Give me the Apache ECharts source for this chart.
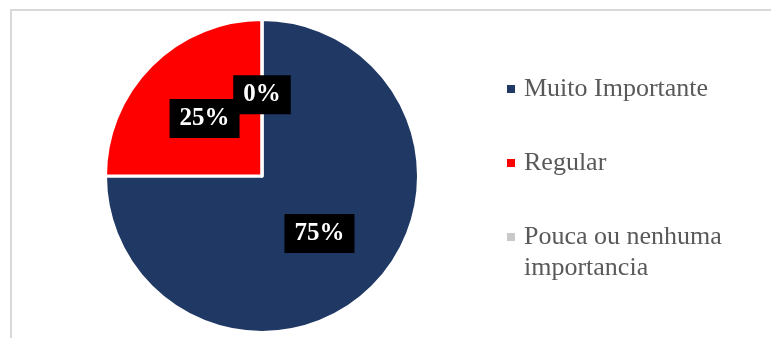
<!DOCTYPE html>
<html>
<head>
<meta charset="utf-8">
<script src="https://cdn.jsdelivr.net/npm/echarts@6/dist/echarts.min.js"></script>
<style>
  html, body { margin: 0; padding: 0; background: #ffffff; }
  #chart { width: 771px; height: 338px; }
</style>
</head>
<body>
<div id="chart"></div>
<script>
// Answer categories and their shares (percent)
const categories = ['Muito Importante', 'Regular', 'Pouca ou nenhuma importancia'];
const shares = [75, 25, 0];
const sliceColors = ['#203864', '#FF0000', '#C9C9C9'];

const serif = '"Liberation Serif", "Times New Roman", serif';
const legendCenters = [89, 163, 237];   // vertical centre of each legend marker
const legendLine = 31;

const chart = echarts.init(document.getElementById('chart'), null, { renderer: 'canvas' });

// one legend block per category so each row sits at its own height;
// the long name wraps onto two lines with the marker beside the first one
const legends = categories.map((name, i) => {
  const twoLine = name === 'Pouca ou nenhuma importancia';
  return {
    orient: 'vertical',
    left: 507,
    top: twoLine ? legendCenters[i] - legendLine * 1.5 : legendCenters[i] - legendLine / 2,
    padding: 0,
    icon: 'rect',
    itemWidth: 8,
    itemHeight: 8,
    itemStyle: { borderWidth: 0 },
    selectedMode: false,
    data: [name],
    formatter: n => n === 'Pouca ou nenhuma importancia' ? '\nPouca ou nenhuma\nimportancia' : n,
    textStyle: {
      fontFamily: serif,
      fontSize: 26,
      color: '#595959',
      lineHeight: legendLine,
      padding: [0, 0, 0, 4]
    }
  };
});

chart.setOption({
  animation: false,
  backgroundColor: '#ffffff',
  legend: legends,
  graphic: [{
    type: 'rect',
    shape: { x: 11, y: 10, width: 800, height: 400 },
    style: { fill: 'none', stroke: '#D9D9D9', lineWidth: 2 },
    silent: true
  }],
  series: [{
    type: 'pie',
    center: [262, 176],
    radius: 156.5,
    startAngle: 90,
    clockwise: true,
    minShowLabelAngle: 0,
    avoidLabelOverlap: false,
    labelLayout: { hideOverlap: false },
    data: categories.map((name, i) => ({
      name,
      value: shares[i],
      itemStyle: { color: sliceColors[i] }
    })),
    itemStyle: { borderColor: '#ffffff', borderWidth: 3 },
    label: {
      show: true,
      position: 'inside',
      formatter: '{d}%',
      fontFamily: serif,
      fontWeight: 'bold',
      fontSize: 25,
      color: '#ffffff',
      backgroundColor: '#000000',
      padding: [5, 10, 5, 10],
      lineHeight: 29
    },
    labelLine: { show: false },
    emphasis: { disabled: true }
  }]
});
</script>
</body>
</html>
